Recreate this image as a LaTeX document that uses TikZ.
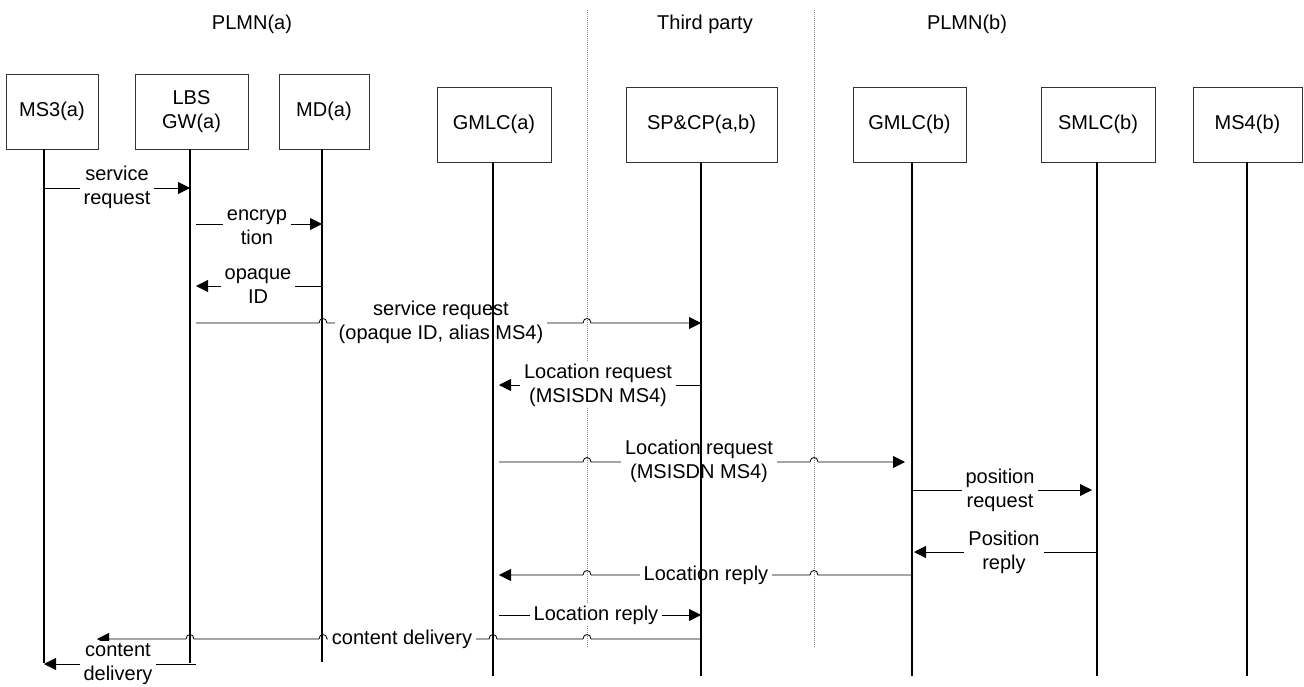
\documentclass[tikz,border=0pt]{standalone}
\usepackage{fontspec}
\setmainfont{Liberation Sans}
\usetikzlibrary{arrows.meta}
\begin{document}
\begin{tikzpicture}[x=1pt,y=-1pt,
  font=\fontsize{20}{24}\selectfont,
  entity/.style={draw=black!80, line width=0.8pt, inner sep=0pt, minimum height=75pt, align=center},
  life/.style={line width=1.6pt, black},
  zone/.style={draw=black!45, line width=0.8pt, dash pattern=on 1pt off 1pt},
  msg/.style={line width=0.8pt, black},
  Tri/.tip={Triangle[length=12pt,width=12pt]},
  lbl/.style={fill=white, inner xsep=4pt, inner ysep=2pt, align=center},
  hop/.style 2 args={insert path={-- (#1-4,#2) .. controls +(0,-6) and +(0,-6) .. (#1+4,#2)}}
]
\useasboundingbox (0,0) rectangle (1304,686);

% domain headings
\node (hA) at (252,24) {PLMN(a)};
\node (hT) at (705,24) {Third party};
\node (hB) at (967,24) {PLMN(b)};

% domain borders
\coordinate (d1t) at (587,10); \coordinate (d1b) at (587,648);
\coordinate (d2t) at (814,10); \coordinate (d2b) at (814,648);
\draw[zone] (d1t) -- (d1b);
\draw[zone] (d2t) -- (d2b);

% entities
\node[entity, minimum width=92pt]  (ms3)  at (52,111.5)    {MS3(a)};
\node[entity, minimum width=113pt] (lbs)  at (191.5,111.5) {LBS\\GW(a)};
\node[entity, minimum width=90pt]  (md)   at (324,111.5)   {MD(a)};
\node[entity, minimum width=114pt] (gma)  at (494,124.5)   {GMLC(a)};
\node[entity, minimum width=151pt] (spcp) at (701.5,124.5) {SP\&CP(a,b)};
\node[entity, minimum width=113pt] (gmb)  at (909.5,124.5) {GMLC(b)};
\node[entity, minimum width=114pt] (smlc) at (1098,124.5)  {SMLC(b)};
\node[entity, minimum width=109pt] (ms4)  at (1247.5,124.5){MS4(b)};

% lifeline end points
\coordinate (L1) at (ms3.south -| 44,0);    \coordinate (L1e) at (44,663);
\coordinate (L2) at (lbs.south -| 190,0);   \coordinate (L2e) at (190,663);
\coordinate (L3) at (md.south -| 322,0);    \coordinate (L3e) at (322,662);
\coordinate (L4) at (gma.south -| 493,0);   \coordinate (L4e) at (493,676);
\coordinate (L5) at (spcp.south -| 701,0);  \coordinate (L5e) at (701,676);
\coordinate (L6) at (gmb.south -| 912,0);   \coordinate (L6e) at (912,676);
\coordinate (L7) at (smlc.south -| 1097,0); \coordinate (L7e) at (1097,676);
\coordinate (L8) at (ms4.south -| 1247,0);  \coordinate (L8e) at (1247,676);

% messages
\draw[msg,-Tri,shorten <=1pt] (L1 |- 0,188) -- (L2 |- 0,188);
\draw[msg,-Tri,shorten <=6pt] (L2 |- 0,224) -- (L3 |- 0,224);
\draw[msg,Tri-,shorten <=6pt] (L2 |- 0,286) -- (L3 |- 0,286);
\draw[msg,-Tri,shorten <=6pt] (L2 |- 0,323) [hop={323}{323}] [hop={587}{323}] -- (L5 |- 0,323);
\draw[msg,Tri-,shorten <=6pt] (L4 |- 0,385) -- (L5 |- 0,385);
\draw[msg,-Tri,shorten <=6pt,shorten >=7pt] (L4 |- 0,462) [hop={587}{462}] [hop={814}{462}] -- (L6 |- 0,462);
\draw[msg,-Tri,shorten <=1pt,shorten >=5pt] (L6 |- 0,490) -- (L7 |- 0,490);
\draw[msg,Tri-,shorten <=2pt] (L6 |- 0,552) -- (L7 |- 0,552);
\draw[msg,Tri-,shorten <=6pt] (L4 |- 0,575) [hop={587}{575}] [hop={814}{575}] -- (L6 |- 0,575);
\draw[msg,-Tri,shorten <=6pt] (L4 |- 0,615) -- (L5 |- 0,615);
\coordinate (cd) at (97,639);
\draw[msg,Tri-] (cd) [hop={190}{639}] [hop={323}{639}] [hop={493}{639}] [hop={587}{639}] -- (L5 |- 0,639);
\draw[msg,Tri-,shorten >=-6pt] (L1 |- 0,664) -- (L2 |- 0,664);

% message labels
\node[lbl] (m1)  at (117,187)  {service\\request};
\node[lbl] (m2)  at (257,227)  {encryp\\tion};
\node[lbl] (m3)  at (258,286)  {opaque\\ID};
\node[lbl] (m4)  at (441,322)  {service request\\(opaque ID, alias MS4)};
\node[lbl] (m5)  at (598,385)  {Location request\\(MSISDN MS4)};
\node[lbl] (m6)  at (699,461)  {Location request\\(MSISDN MS4)};
\node[lbl] (m7)  at (1000,490) {position\\request};
\node[lbl] (m8)  at (1004,552) {Position\\reply};
\node[lbl] (m9)  at (706,575)  {Location reply};
\node[lbl] (m10) at (596,615)  {Location reply};
\node[lbl] (m11) at (402,639)  {content delivery};
\node[lbl] (m12) at (118,664)  {content\\delivery};

% lifelines
\foreach \i in {1,...,8} \draw[life] (L\i) -- (L\i e);
\end{tikzpicture}
\end{document}
